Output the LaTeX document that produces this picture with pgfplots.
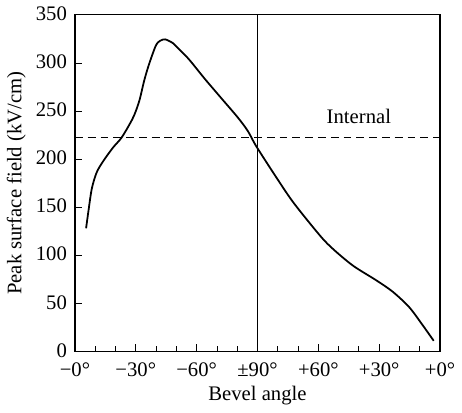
\documentclass[border=0pt]{standalone}
\usepackage{fontspec}
\setmainfont{Liberation Serif}
\usepackage{pgfplots}
\pgfplotsset{compat=1.18}
\begin{document}
\fontsize{21}{25}\selectfont
\begin{tikzpicture}
\begin{axis}[
  scale only axis,
  width=371pt, height=342pt,
  xmin=0, xmax=180, ymin=0, ymax=350,
  xtick={0,30,60,90,120,150,180},
  xticklabels={−0°,−30°,−60°,±90°,+60°,+30°,+0°},
  minor xtick={10,20,40,50,70,80,100,110,130,140,160,170},
  ytick={0,50,100,150,200,250,300,350},
  tick align=inside,
  major tick length=7pt, minor tick length=5pt,
  every tick/.style={black, line width=0.8pt},
  axis line style={line width=1.3pt},
  /pgf/number format/assume math mode=true,
  tick label style={font=\fontsize{21}{25}\selectfont},
  label style={font=\fontsize{21}{25}\selectfont},
  xtick pos=bottom, ytick pos=left,
  xlabel={Bevel angle},
  ylabel={Peak surface field (kV/cm)},
  xticklabel style={yshift=-4pt},
  yticklabel style={xshift=-1pt, yshift=1pt},
  xlabel style={yshift=4pt},
  ylabel style={yshift=-4pt},
  clip=false,
]
\addplot[black, line width=0.5pt] coordinates {(90,0) (90,350)};
\addplot[black, line width=0.8pt, dash pattern=on 8pt off 5pt] coordinates {(0,223) (180,223)};
\addplot[black, line width=1.8pt, smooth, tension=0.5] coordinates {
(5.5,128) (6.6,145) (8.3,169) (10.7,186) (14.0,198) (18.8,212) (22.9,222)
(26.9,236) (29.3,246) (31.8,261) (34.2,282) (36.6,299) (39.9,318) (42,323)
(44.5,324.5) (48,321) (49.6,318) (56.1,304) (64.2,283) (72.3,263) (80.4,243)
(85.3,229) (89.5,213) (99.9,179) (108,154) (121,120) (127.5,106) (137.2,89)
(148.5,74) (156.7,62) (164.8,46) (171.2,28) (176.9,11)
};
\node[anchor=base] at (axis cs:140,237) {Internal};
\end{axis}
\end{tikzpicture}
\end{document}
